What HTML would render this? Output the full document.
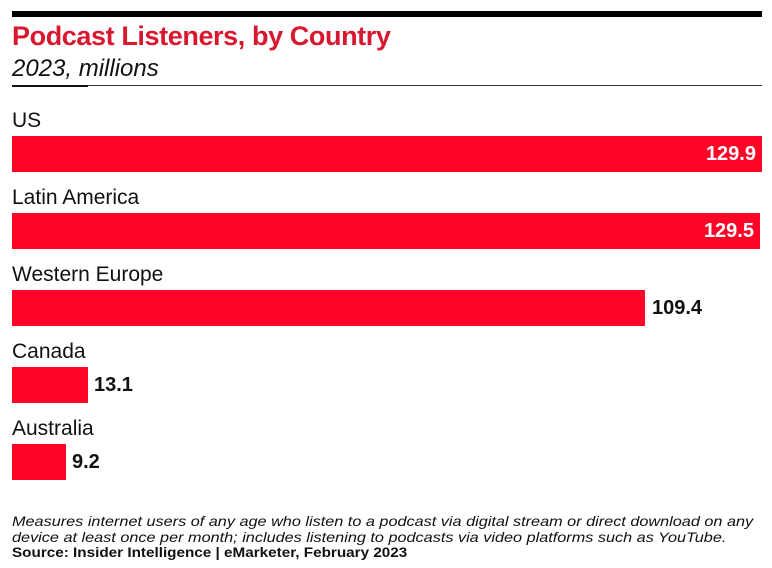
<!DOCTYPE html>
<html><head><style>
body{margin:0;width:772px;height:568px;background:#fff;position:relative;overflow:hidden;font-family:"Liberation Sans",sans-serif;}
div{position:absolute;}
.lab{left:12px;font-size:21px;color:#111;line-height:24px;}
.bar{left:12px;height:36px;background:#fe0527;}
.val{font-size:20px;font-weight:bold;color:#111;line-height:36px;}
.in{color:#fff;text-align:right;}
.fn{left:12px;white-space:nowrap;font-size:14px;color:#111;line-height:15.5px;transform-origin:0 0;}
</style></head><body>
<div style="left:12px;top:11px;width:750px;height:6px;background:#000"></div>
<div style="left:12px;top:20px;font-size:27px;font-weight:bold;color:#d7182f;line-height:32px;letter-spacing:-0.4px">Podcast Listeners, by Country</div>
<div style="left:12px;top:54px;font-size:24px;font-style:italic;color:#111;line-height:30px">2023, millions</div>
<div style="left:12px;top:85px;width:750px;height:1px;background:#333"></div>
<div style="left:12px;top:85px;width:76px;height:2px;background:#111"></div>

<div class="lab" style="top:109px">US</div>
<div class="bar" style="top:136px;width:750px"></div>
<div class="val in" style="top:136px;left:600px;width:156px">129.9</div>

<div class="lab" style="top:186px">Latin America</div>
<div class="bar" style="top:213px;width:748px"></div>
<div class="val in" style="top:213px;left:600px;width:154px">129.5</div>

<div class="lab" style="top:263px">Western Europe</div>
<div class="bar" style="top:290px;width:633px"></div>
<div class="val" style="top:290px;left:652px">109.4</div>

<div class="lab" style="top:340px">Canada</div>
<div class="bar" style="top:367px;width:76px"></div>
<div class="val" style="top:367px;left:94px">13.1</div>

<div class="lab" style="top:417px">Australia</div>
<div class="bar" style="top:444px;width:54px"></div>
<div class="val" style="top:444px;left:72px">9.2</div>

<div class="fn" style="top:514px;font-style:italic;transform:scaleX(1.16)">Measures internet users of any age who listen to a podcast via digital stream or direct download on any<br>device at least once per month; includes listening to podcasts via video platforms such as YouTube.</div>
<div class="fn" style="top:545px;font-weight:bold;transform:scaleX(1.09)">Source: Insider Intelligence | eMarketer, February 2023</div>
</body></html>
